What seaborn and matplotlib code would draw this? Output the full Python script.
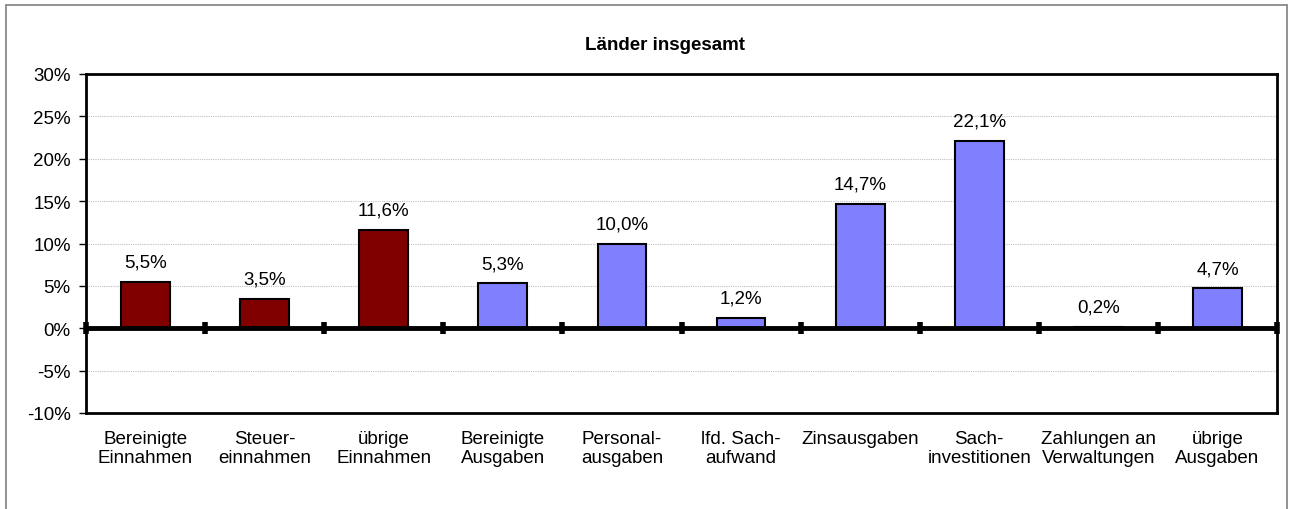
import matplotlib
matplotlib.use("Agg")
import matplotlib.pyplot as plt
import seaborn as sns
import pandas as pd
from matplotlib.lines import Line2D

categories = ["Bereinigte\nEinnahmen", "Steuer-\neinnahmen", "übrige\nEinnahmen",
              "Bereinigte\nAusgaben", "Personal-\nausgaben", "lfd. Sach-\naufwand",
              "Zinsausgaben", "Sach-\ninvestitionen", "Zahlungen an\nVerwaltungen",
              "übrige\nAusgaben"]
values = [5.5, 3.5, 11.6, 5.3, 10.0, 1.2, 14.7, 22.1, 0.2, 4.7]
groups = ["Einnahmen"] * 3 + ["Ausgaben"] * 7
y_ticks = [-10, -5, 0, 5, 10, 15, 20, 25, 30]

df = pd.DataFrame({"Kategorie": categories, "Wert": values, "Gruppe": groups})

sns.set_style("white")
plt.rcParams["font.family"] = ["Liberation Sans", "DejaVu Sans"]
plt.rcParams["font.size"] = 13.5
plt.rcParams["text.color"] = "black"
plt.rcParams["xtick.color"] = "black"
plt.rcParams["ytick.color"] = "black"

fig = plt.figure(figsize=(12.92, 5.10), dpi=100)
ax = fig.add_axes([86 / 1292, 1 - 414 / 510, (1277 - 86) / 1292, (414 - 75) / 510])

sns.barplot(data=df, x="Kategorie", y="Wert", hue="Gruppe", dodge=False,
            palette={"Einnahmen": "#800000", "Ausgaben": "#8080FF"}, saturation=1,
            width=0.41, edgecolor="black", linewidth=1.5, legend=False, ax=ax)

for cont in ax.containers:
    ax.bar_label(cont, labels=[f"{v:.1f}%".replace(".", ",") if v == v else "" for v in cont.datavalues],
                 padding=8, fontsize=13.5, color="black")

ax.set_xlim(-0.5, len(categories) - 0.5)
ax.set_ylim(-10, 30)
ax.set_yticks(y_ticks)
ax.set_yticklabels([f"{t}%" for t in y_ticks])
ax.set_xlabel("")
ax.set_ylabel("")
ax.yaxis.grid(True, linestyle=(0, (1, 1)), color="#c0c0c0", linewidth=0.8)
ax.set_axisbelow(True)
ax.tick_params(axis="y", length=5, width=1, left=True, pad=6, labelsize=13.5)
ax.tick_params(axis="x", length=0, pad=12, labelsize=13.5)
for lbl in ax.get_xticklabels():
    lbl.set_verticalalignment("top")
    lbl.set_linespacing(1.17)

for s in ax.spines.values():
    s.set_color("black")
    s.set_linewidth(2)

# zero line with category separators
ax.axhline(0, color="black", linewidth=3.5, zorder=5)
bounds = [i - 0.5 for i in range(len(categories) + 1)]
ax.plot(bounds, [0] * len(bounds), linestyle="none", marker="|", markersize=9,
        markeredgewidth=4, color="black", zorder=6, clip_on=False)

fig.text(665 / 1292, 1 - 45 / 510, "Länder insgesamt", ha="center", va="center",
         fontsize=13.5, fontweight="bold")

# outer chart frame
x0, x1, yt = 6 / 1292, 1287 / 1292, 1 - 6 / 510
for xs, ys in [([x0, x0], [0, yt]), ([x0, x1], [yt, yt]), ([x1, x1], [yt, 0])]:
    fig.add_artist(Line2D(xs, ys, transform=fig.transFigure, color="#808080", linewidth=1.2))

fig.savefig("out.png", dpi=100)
